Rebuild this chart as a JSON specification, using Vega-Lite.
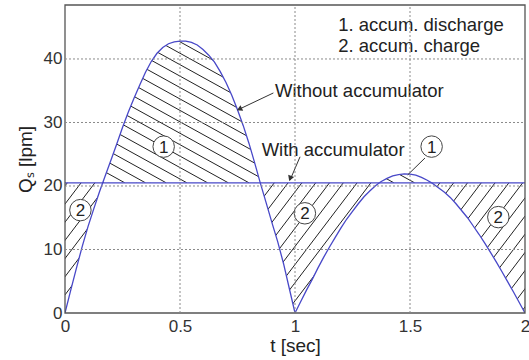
{
  "$schema": "https://vega.github.io/schema/vega-lite/v6.json",
  "width": 460,
  "height": 308,
  "autosize": {"type": "none"},
  "padding": {"left": 65, "top": 5, "right": 4, "bottom": 47},
  "background": "white",
  "config": {
    "view": {"stroke": null},
    "font": "Liberation Sans",
    "axis": {
      "grid": false,
      "ticks": false,
      "domain": false,
      "labelFont": "Liberation Sans",
      "labelFontSize": 17,
      "labelColor": "#333333",
      "titleFont": "Liberation Sans",
      "titleFontSize": 19,
      "titleFontWeight": "normal",
      "titleColor": "#222222",
      "labelFlush": false
    },
    "axisX": {"labelPadding": 5, "titlePadding": 2},
    "axisY": {"labelPadding": 3, "titlePadding": 8}
  },
  "datasets": {
    "flow": [
      {"t": 0, "q": 0}, {"t": 0.025, "q": 3.6}, {"t": 0.05, "q": 7.1}, {"t": 0.075, "q": 10.5},
      {"t": 0.1, "q": 13.6}, {"t": 0.125, "q": 16.4}, {"t": 0.15, "q": 19.1}, {"t": 0.164, "q": 20.5},
      {"t": 0.175, "q": 21.6}, {"t": 0.2, "q": 24.1}, {"t": 0.225, "q": 26.6}, {"t": 0.25, "q": 29.2},
      {"t": 0.275, "q": 31.6}, {"t": 0.3, "q": 33.8}, {"t": 0.325, "q": 35.9}, {"t": 0.35, "q": 37.9},
      {"t": 0.375, "q": 39.6}, {"t": 0.4, "q": 40.9}, {"t": 0.425, "q": 41.8}, {"t": 0.45, "q": 42.4},
      {"t": 0.475, "q": 42.7}, {"t": 0.5, "q": 42.8}, {"t": 0.525, "q": 42.8}, {"t": 0.55, "q": 42.6},
      {"t": 0.575, "q": 42.2}, {"t": 0.6, "q": 41.5}, {"t": 0.625, "q": 40.6}, {"t": 0.65, "q": 39.5},
      {"t": 0.675, "q": 38.0}, {"t": 0.7, "q": 36.3}, {"t": 0.725, "q": 34.3}, {"t": 0.75, "q": 32.0},
      {"t": 0.775, "q": 29.5}, {"t": 0.8, "q": 26.7}, {"t": 0.825, "q": 23.6}, {"t": 0.849, "q": 20.5},
      {"t": 0.875, "q": 17.3}, {"t": 0.9, "q": 14.2}, {"t": 0.925, "q": 11.2}, {"t": 0.95, "q": 7.8},
      {"t": 0.975, "q": 3.9}, {"t": 1.0, "q": 0},
      {"t": 1.025, "q": 1.8}, {"t": 1.05, "q": 3.6}, {"t": 1.075, "q": 5.3}, {"t": 1.1, "q": 7.1},
      {"t": 1.125, "q": 8.8}, {"t": 1.15, "q": 10.4}, {"t": 1.175, "q": 11.9}, {"t": 1.2, "q": 13.4},
      {"t": 1.225, "q": 14.8}, {"t": 1.25, "q": 16.0}, {"t": 1.275, "q": 17.2}, {"t": 1.3, "q": 18.3},
      {"t": 1.325, "q": 19.2}, {"t": 1.35, "q": 20.05}, {"t": 1.367, "q": 20.5}, {"t": 1.375, "q": 20.7},
      {"t": 1.4, "q": 21.2}, {"t": 1.425, "q": 21.6}, {"t": 1.45, "q": 21.8}, {"t": 1.475, "q": 21.9},
      {"t": 1.5, "q": 21.86}, {"t": 1.525, "q": 21.7}, {"t": 1.55, "q": 21.35}, {"t": 1.575, "q": 20.9},
      {"t": 1.594, "q": 20.5}, {"t": 1.6, "q": 20.36}, {"t": 1.625, "q": 19.7}, {"t": 1.65, "q": 19.0},
      {"t": 1.675, "q": 18.2}, {"t": 1.7, "q": 17.2}, {"t": 1.725, "q": 16.1}, {"t": 1.75, "q": 15.0},
      {"t": 1.775, "q": 13.7}, {"t": 1.8, "q": 12.4}, {"t": 1.825, "q": 11.0}, {"t": 1.85, "q": 9.55},
      {"t": 1.875, "q": 8.05}, {"t": 1.9, "q": 6.5}, {"t": 1.925, "q": 4.9}, {"t": 1.95, "q": 3.3},
      {"t": 1.975, "q": 1.65}, {"t": 2.0, "q": 0}
    ],
    "accum": [{"t": 0, "qa": 20.5}, {"t": 2, "qa": 20.5}],
    "gridT": [{"gt": 0.5}, {"gt": 1}, {"gt": 1.5}],
    "gridQ": [{"gq": 10}, {"gq": 20}, {"gq": 30}, {"gq": 40}],
    "hatchUp": [
      {"x0": 0.17, "x1": -1.23}, {"x0": 0.26, "x1": -1.14}, {"x0": 0.35, "x1": -1.05},
      {"x0": 0.44, "x1": -0.96}, {"x0": 0.53, "x1": -0.87}, {"x0": 0.62, "x1": -0.78},
      {"x0": 0.71, "x1": -0.69}, {"x0": 0.8, "x1": -0.6}, {"x0": 0.89, "x1": -0.51},
      {"x0": 0.98, "x1": -0.42}, {"x0": 1.07, "x1": -0.33}, {"x0": 1.16, "x1": -0.24},
      {"x0": 1.25, "x1": -0.15}, {"x0": 1.34, "x1": -0.06}, {"x0": 1.43, "x1": 0.03},
      {"x0": 1.52, "x1": 0.12}, {"x0": 1.61, "x1": 0.21}, {"x0": 1.7, "x1": 0.3}
    ],
    "hatchLow": [
      {"x0": -0.42, "x1": 0.01}, {"x0": -0.36, "x1": 0.07}, {"x0": -0.3, "x1": 0.13},
      {"x0": -0.24, "x1": 0.19}, {"x0": -0.18, "x1": 0.25}, {"x0": -0.12, "x1": 0.31},
      {"x0": -0.06, "x1": 0.37}, {"x0": 0.0, "x1": 0.43},
      {"x0": 0.42, "x1": 0.85}, {"x0": 0.48, "x1": 0.91}, {"x0": 0.54, "x1": 0.97},
      {"x0": 0.6, "x1": 1.03}, {"x0": 0.66, "x1": 1.09}, {"x0": 0.72, "x1": 1.15},
      {"x0": 0.78, "x1": 1.21}, {"x0": 0.84, "x1": 1.27}, {"x0": 0.9, "x1": 1.33},
      {"x0": 0.96, "x1": 1.39},
      {"x0": 1.2, "x1": 1.63}, {"x0": 1.26, "x1": 1.69}, {"x0": 1.32, "x1": 1.75},
      {"x0": 1.38, "x1": 1.81}, {"x0": 1.44, "x1": 1.87}, {"x0": 1.5, "x1": 1.93},
      {"x0": 1.56, "x1": 1.99}, {"x0": 1.62, "x1": 2.05}, {"x0": 1.68, "x1": 2.11},
      {"x0": 1.74, "x1": 2.17}, {"x0": 1.8, "x1": 2.23}, {"x0": 1.86, "x1": 2.29},
      {"x0": 1.92, "x1": 2.35}, {"x0": 1.98, "x1": 2.41}
    ],
    "arrows": [
      {"id": "without", "x0": 0.906, "y0": 34.65, "x1": 0.752, "y1": 32.0},
      {"id": "with", "x0": 1.022, "y0": 24.6, "x1": 0.978, "y1": 20.9},
      {"id": "cap", "x0": 1.565, "y0": 24.4, "x1": 1.49, "y1": 21.75}
    ],
    "heads": [
      {"id": "without", "t": 0.758, "y": 32.1},
      {"id": "with", "t": 0.979, "y": 21.2}
    ],
    "marks": [
      {"t": 0.429, "y": 26.2, "n": "1"},
      {"t": 1.594, "y": 26.2, "n": "1"},
      {"t": 0.067, "y": 16.2, "n": "2"},
      {"t": 1.043, "y": 15.7, "n": "2"},
      {"t": 1.884, "y": 15.1, "n": "2"}
    ],
    "notes": [
      {"t": 0.913, "y": 35.0, "label": "Without accumulator"},
      {"t": 0.855, "y": 25.6, "label": "With accumulator"},
      {"t": 1.188, "y": 45.3, "label": "1. accum. discharge"},
      {"t": 1.188, "y": 42.0, "label": "2. accum. charge"}
    ]
  },
  "layer": [
    {
      "data": {"name": "hatchUp"},
      "mark": {"type": "rule", "clip": true, "stroke": "#222222", "strokeWidth": 1},
      "encoding": {
        "x": {"field": "x0", "type": "quantitative", "scale": {"domain": [0, 2], "nice": false}, "title": "t [sec]"},
        "x2": {"field": "x1"},
        "y": {"datum": 20.5, "type": "quantitative", "scale": {"domain": [0, 48.5], "nice": false}, "title": "Qₛ [lpm]"},
        "y2": {"datum": 48.5}
      }
    },
    {
      "data": {"name": "flow"},
      "mark": {"type": "area", "clip": true, "fill": "white"},
      "encoding": {
        "x": {
          "field": "t", "type": "quantitative",
          "scale": {"domain": [0, 2], "nice": false},
          "axis": {"values": [0, 0.5, 1, 1.5, 2], "format": "~g"},
          "title": "t [sec]"
        },
        "y": {
          "field": "q", "type": "quantitative",
          "scale": {"domain": [0, 48.5], "nice": false},
          "axis": {"values": [0, 10, 20, 30, 40], "format": "d"},
          "title": "Qₛ [lpm]"
        },
        "y2": {"datum": 48.5}
      }
    },
    {
      "data": {"name": "hatchLow"},
      "mark": {"type": "rule", "clip": true, "stroke": "#222222", "strokeWidth": 1},
      "encoding": {
        "x": {"field": "x0", "type": "quantitative", "scale": {"domain": [0, 2], "nice": false}, "title": "t [sec]"},
        "x2": {"field": "x1"},
        "y": {"datum": 0, "type": "quantitative", "scale": {"domain": [0, 48.5], "nice": false}, "title": "Qₛ [lpm]"},
        "y2": {"datum": 20.5}
      }
    },
    {
      "data": {"name": "flow"},
      "transform": [{"filter": "datum.q <= 20.5"}],
      "mark": {"type": "area", "clip": true, "fill": "white"},
      "encoding": {
        "x": {"field": "t", "type": "quantitative", "scale": {"domain": [0, 2], "nice": false}, "title": "t [sec]"},
        "y": {"field": "q", "type": "quantitative", "scale": {"domain": [0, 48.5], "nice": false}, "title": "Qₛ [lpm]"},
        "y2": {"datum": 0}
      }
    },
    {
      "data": {"name": "flow"},
      "mark": {"type": "line", "clip": true, "stroke": "#4848c8", "strokeWidth": 1.3},
      "encoding": {
        "x": {"field": "t", "type": "quantitative", "scale": {"domain": [0, 2], "nice": false}, "title": "t [sec]"},
        "y": {"field": "q", "type": "quantitative", "scale": {"domain": [0, 48.5], "nice": false}, "title": "Qₛ [lpm]"}
      }
    },
    {
      "data": {"name": "accum"},
      "mark": {"type": "line", "clip": true, "stroke": "#4848c8", "strokeWidth": 1.3},
      "encoding": {
        "x": {"field": "t", "type": "quantitative", "scale": {"domain": [0, 2], "nice": false}, "title": "t [sec]"},
        "y": {"field": "qa", "type": "quantitative", "scale": {"domain": [0, 48.5], "nice": false}, "title": "Qₛ [lpm]"}
      }
    },
    {
      "data": {"name": "arrows"},
      "mark": {"type": "rule", "stroke": "#333333", "strokeWidth": 1},
      "encoding": {
        "x": {"field": "x0", "type": "quantitative", "scale": {"domain": [0, 2], "nice": false}, "title": "t [sec]"},
        "x2": {"field": "x1"},
        "y": {"field": "y0", "type": "quantitative", "scale": {"domain": [0, 48.5], "nice": false}, "title": "Qₛ [lpm]"},
        "y2": {"field": "y1"}
      }
    },
    {
      "data": {"name": "heads"},
      "transform": [{"filter": "datum.id == 'without'"}],
      "mark": {"type": "point", "shape": "triangle-right", "filled": true, "fill": "#333333", "stroke": null, "size": 40, "angle": 155, "opacity": 1},
      "encoding": {
        "x": {"field": "t", "type": "quantitative", "scale": {"domain": [0, 2], "nice": false}, "title": "t [sec]"},
        "y": {"field": "y", "type": "quantitative", "scale": {"domain": [0, 48.5], "nice": false}, "title": "Qₛ [lpm]"}
      }
    },
    {
      "data": {"name": "heads"},
      "transform": [{"filter": "datum.id == 'with'"}],
      "mark": {"type": "point", "shape": "triangle-right", "filled": true, "fill": "#333333", "stroke": null, "size": 40, "angle": 111, "opacity": 1},
      "encoding": {
        "x": {"field": "t", "type": "quantitative", "scale": {"domain": [0, 2], "nice": false}, "title": "t [sec]"},
        "y": {"field": "y", "type": "quantitative", "scale": {"domain": [0, 48.5], "nice": false}, "title": "Qₛ [lpm]"}
      }
    },
    {
      "data": {"name": "marks"},
      "mark": {"type": "circle", "size": 460, "fill": "white", "stroke": "#444444", "strokeWidth": 1, "opacity": 1},
      "encoding": {
        "x": {"field": "t", "type": "quantitative", "scale": {"domain": [0, 2], "nice": false}, "title": "t [sec]"},
        "y": {"field": "y", "type": "quantitative", "scale": {"domain": [0, 48.5], "nice": false}, "title": "Qₛ [lpm]"}
      }
    },
    {
      "data": {"name": "marks"},
      "mark": {"type": "text", "fontSize": 17, "align": "center", "baseline": "middle", "color": "#222222", "dy": 1},
      "encoding": {
        "x": {"field": "t", "type": "quantitative", "scale": {"domain": [0, 2], "nice": false}, "title": "t [sec]"},
        "y": {"field": "y", "type": "quantitative", "scale": {"domain": [0, 48.5], "nice": false}, "title": "Qₛ [lpm]"},
        "text": {"field": "n"}
      }
    },
    {
      "data": {"name": "notes"},
      "mark": {"type": "text", "fontSize": 18.5, "align": "left", "baseline": "middle", "color": "#222222"},
      "encoding": {
        "x": {"field": "t", "type": "quantitative", "scale": {"domain": [0, 2], "nice": false}, "title": "t [sec]"},
        "y": {"field": "y", "type": "quantitative", "scale": {"domain": [0, 48.5], "nice": false}, "title": "Qₛ [lpm]"},
        "text": {"field": "label"}
      }
    },
    {
      "data": {"values": [{}]},
      "mark": {"type": "rect", "fill": null, "fillOpacity": 0, "stroke": "#555555", "strokeWidth": 1.3},
      "encoding": {
        "x": {"datum": 0, "type": "quantitative", "scale": {"domain": [0, 2], "nice": false}, "title": "t [sec]"},
        "x2": {"datum": 2},
        "y": {"datum": 0, "type": "quantitative", "scale": {"domain": [0, 48.5], "nice": false}, "title": "Qₛ [lpm]"},
        "y2": {"datum": 48.5}
      }
    },
    {
      "data": {"name": "gridT"},
      "mark": {"type": "rule", "stroke": "#8a8a8a", "strokeWidth": 1, "strokeDash": [2, 2]},
      "encoding": {
        "x": {"field": "gt", "type": "quantitative", "scale": {"domain": [0, 2], "nice": false}, "title": "t [sec]"},
        "y": {"datum": 0, "type": "quantitative", "scale": {"domain": [0, 48.5], "nice": false}, "title": "Qₛ [lpm]"},
        "y2": {"datum": 48.5}
      }
    },
    {
      "data": {"name": "gridQ"},
      "mark": {"type": "rule", "stroke": "#8a8a8a", "strokeWidth": 1, "strokeDash": [2, 2]},
      "encoding": {
        "x": {"datum": 0, "type": "quantitative", "scale": {"domain": [0, 2], "nice": false}, "title": "t [sec]"},
        "x2": {"datum": 2},
        "y": {"field": "gq", "type": "quantitative", "scale": {"domain": [0, 48.5], "nice": false}, "title": "Qₛ [lpm]"}
      }
    }
  ]
}
